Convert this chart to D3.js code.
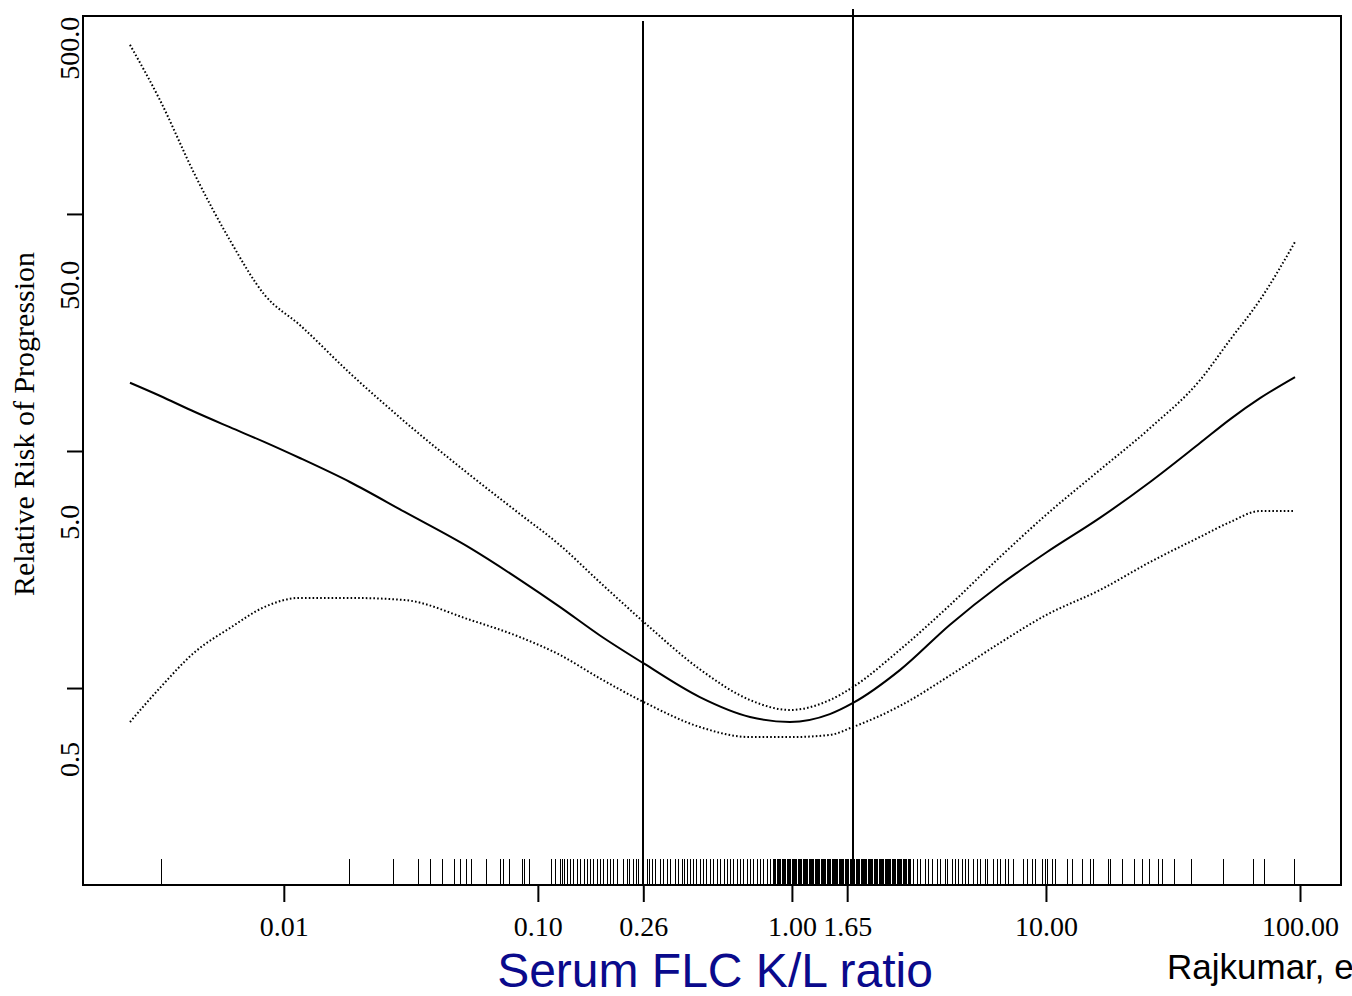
<!DOCTYPE html>
<html>
<head>
<meta charset="utf-8">
<script src="https://cdn.jsdelivr.net/npm/d3@7"></script>
<style>
  body { margin: 0; background: #fff; }
  svg { display: block; }
</style>
</head>
<body>
<svg width="1352" height="996"></svg>
<script>
// FLC ratio grid (x) and fitted relative risk with 95% band
var klRatio = [0.00248, 0.00325, 0.00447, 0.00613, 0.00841, 0.01156, 0.0182, 0.0299, 0.0540, 0.0850,
               0.122, 0.175, 0.261, 0.434, 0.684, 0.982, 1.41, 1.74, 2.66, 4.19,
               6.59, 10.0, 16.3, 25.7, 40.4, 53.0, 69.6, 95.6];
var riskFit = [19.4, 17.1, 14.6, 12.6, 10.9, 9.34, 7.40, 5.53, 3.90, 2.86,
               2.20, 1.67, 1.27, 0.916, 0.755, 0.719, 0.776, 0.865, 1.19, 1.85,
               2.72, 3.72, 5.22, 7.40, 10.8, 13.6, 16.7, 20.5];
var riskUpper = [517, 303, 146, 77.6, 45.5, 34.0, 21.3, 13.3, 7.92, 5.42,
                 4.01, 2.80, 1.90, 1.20, 0.890, 0.808, 0.890, 1.01, 1.45, 2.24,
                 3.57, 5.37, 8.32, 12.5, 19.9, 29.4, 43.4, 76.2];
var riskLower = [0.719, 1.00, 1.42, 1.79, 2.20, 2.40, 2.40, 2.35, 1.94, 1.64,
                 1.38, 1.10, 0.873, 0.685, 0.621, 0.621, 0.634, 0.685, 0.840, 1.13,
                 1.55, 2.03, 2.59, 3.40, 4.34, 5.01, 5.58, 5.58];

// observed ratios (log10) for the rug
var rugLog10 = [-2.484, -1.744, -1.571, -1.472, -1.425, -1.378, -1.331, -1.307, -1.283, -1.264,
  -1.205, -1.150, -1.138, -1.114, -1.063, -1.055, -1.035, -0.949, -0.933, -0.913, -0.906, -0.898,
  -0.886, -0.874, -0.862, -0.846, -0.835, -0.819, -0.807, -0.795, -0.783, -0.768, -0.756, -0.744,
  -0.728, -0.717, -0.705, -0.689, -0.665, -0.650, -0.642, -0.626, -0.614, -0.606, -0.591, -0.571,
  -0.563, -0.551, -0.539, -0.520, -0.508, -0.492, -0.480, -0.461, -0.449, -0.433, -0.425, -0.413,
  -0.402, -0.390, -0.378, -0.362, -0.350, -0.339, -0.323, -0.311, -0.295, -0.283, -0.268, -0.256,
  -0.244, -0.232, -0.217, -0.205, -0.193, -0.177, -0.165, -0.154, -0.138, -0.126, -0.114, -0.098,
  -0.087, -0.075, -0.071, -0.066, -0.060, -0.055, -0.051, -0.045, -0.040, -0.035, -0.031, -0.026,
  -0.020, -0.016, -0.011, -0.006, -0.001, 0.004, 0.009, 0.013, 0.018, 0.023, 0.028, 0.032, 0.037,
  0.042, 0.047, 0.051, 0.056, 0.061, 0.066, 0.070, 0.075, 0.080, 0.084, 0.089, 0.094, 0.099, 0.103,
  0.108, 0.113, 0.118, 0.122, 0.127, 0.132, 0.137, 0.141, 0.146, 0.151, 0.156, 0.160, 0.165, 0.170,
  0.175, 0.179, 0.184, 0.189, 0.194, 0.198, 0.203, 0.208, 0.213, 0.217, 0.222, 0.227, 0.232, 0.236,
  0.241, 0.246, 0.251, 0.255, 0.260, 0.265, 0.270, 0.274, 0.279, 0.284, 0.289, 0.293, 0.298, 0.303,
  0.308, 0.312, 0.317, 0.322, 0.327, 0.331, 0.336, 0.341, 0.346, 0.350, 0.355, 0.360, 0.365, 0.369,
  0.374, 0.379, 0.384, 0.388, 0.393, 0.398, 0.403, 0.407, 0.412, 0.417, 0.422, 0.426, 0.431, 0.436,
  0.441, 0.445, 0.450, 0.455, 0.460, 0.465, 0.476, 0.492, 0.504, 0.524, 0.535, 0.551, 0.571, 0.583,
  0.602, 0.610, 0.630, 0.642, 0.654, 0.669, 0.681, 0.693, 0.713, 0.728, 0.740, 0.760, 0.768, 0.791,
  0.807, 0.819, 0.839, 0.850, 0.870, 0.909, 0.925, 0.945, 0.957, 0.984, 0.996, 1.004, 1.024, 1.035,
  1.083, 1.102, 1.142, 1.173, 1.185, 1.244, 1.252, 1.299, 1.346, 1.378, 1.406, 1.441, 1.457, 1.504,
  1.571, 1.697, 1.815, 1.858, 1.976];

var xTicks = [0.01, 0.1, 0.26, 1, 1.65, 10, 100];
var yTicks = [1, 10, 100];
var yLabels = [0.5, 5, 50, 500];
// cut-off lines as drawn: [ratio, risk at top end]
var cutLines = [[0.26, 652], [1.74, 733]];

var svg = d3.select("svg");
var pLeft = 83, pRight = 1341, pTop = 16, pBottom = 885;

var x = d3.scaleLog().domain([0.00162, 145]).range([pLeft, pRight]);
var y = d3.scaleLog().domain([0.1476, 684]).range([pBottom, pTop]);

var serif = '"Liberation Serif", "Times New Roman", serif';
var sans = '"Liberation Sans", Arial, sans-serif';
var crisp = function(v) { return Math.round(v) + 0.5; };

// rug
svg.append("g")
  .selectAll("line")
  .data(rugLog10)
  .enter().append("line")
  .attr("x1", function(d) { return crisp(x(Math.pow(10, d))); })
  .attr("x2", function(d) { return crisp(x(Math.pow(10, d))); })
  .attr("y1", pBottom - 26)
  .attr("y2", pBottom)
  .attr("stroke", "#000")
  .attr("stroke-width", 1);

// cut-off lines
svg.append("g")
  .selectAll("line")
  .data(cutLines)
  .enter().append("line")
  .attr("x1", function(d) { return Math.round(x(d[0])); })
  .attr("x2", function(d) { return Math.round(x(d[0])); })
  .attr("y1", function(d) { return y(d[1]); })
  .attr("y2", function(d, i) { return i == 0 ? pBottom : pBottom - 26; })
  .attr("stroke", "#000")
  .attr("stroke-width", 2);

var pts = function(vals) {
  return klRatio.map(function(k, i) { return [x(k), y(vals[i])]; });
};
var line = d3.line().curve(d3.curveMonotoneX);

svg.append("path")
  .attr("d", line(pts(riskFit)))
  .attr("fill", "none")
  .attr("stroke", "#000")
  .attr("stroke-width", 2);

[riskUpper, riskLower].forEach(function(s) {
  svg.append("path")
    .attr("d", line(pts(s)))
    .attr("fill", "none")
    .attr("stroke", "#000")
    .attr("stroke-width", 2)
    .attr("stroke-dasharray", "1.6,2.2");
});

// frame
svg.append("rect")
  .attr("x", pLeft).attr("y", pTop)
  .attr("width", pRight - pLeft).attr("height", pBottom - pTop)
  .attr("fill", "none")
  .attr("stroke", "#000")
  .attr("stroke-width", 2);

// axes
var xAxis = svg.append("g")
  .attr("transform", "translate(0," + pBottom + ")")
  .call(d3.axisBottom(x).tickValues(xTicks).tickFormat(d3.format(".2f")).tickSize(17).tickPadding(14));
xAxis.select(".domain").remove();
xAxis.selectAll(".tick line").attr("stroke-width", 2);
xAxis.selectAll(".tick text").attr("font-size", 28).attr("fill", "#000").style("font-family", serif);

var yAxis = svg.append("g")
  .attr("transform", "translate(" + pLeft + ",0)")
  .call(d3.axisLeft(y).tickValues(yTicks).tickFormat("").tickSize(16));
yAxis.select(".domain").remove();
yAxis.selectAll(".tick line").attr("stroke-width", 2);

svg.append("g")
  .selectAll("text")
  .data(yLabels)
  .enter().append("text")
  .attr("transform", function(d) { return "translate(79," + y(d) + ") rotate(-90)"; })
  .attr("text-anchor", "middle")
  .style("font-family", serif)
  .attr("font-size", 28)
  .text(function(d) { return d3.format(".1f")(d); });

// titles
svg.append("text")
  .attr("transform", "translate(34,424) rotate(-90)")
  .attr("text-anchor", "middle")
  .style("font-family", serif)
  .attr("font-size", 30)
  .text("Relative Risk of Progression");

svg.append("text")
  .attr("x", 715).attr("y", 987)
  .attr("text-anchor", "middle")
  .style("font-family", sans)
  .attr("font-size", 48)
  .attr("fill", "#0a0a8c")
  .text("Serum FLC K/L ratio");

svg.append("text")
  .attr("x", 1167).attr("y", 979)
  .style("font-family", sans)
  .attr("font-size", 35)
  .attr("fill", "#000")
  .text("Rajkumar, et al.");
</script>
</body>
</html>
